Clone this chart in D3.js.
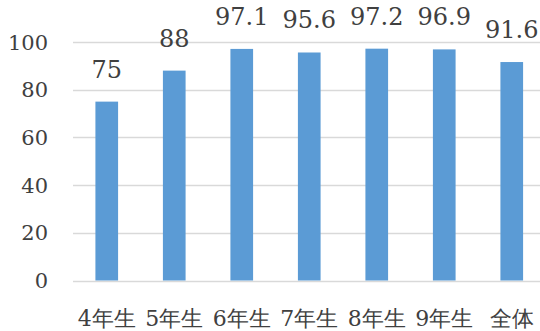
<!DOCTYPE html>
<meta charset="utf-8">
<script src="https://d3js.org/d3.v7.min.js"></script>
<body style="margin:0">
<script>

var categories = ["4年生", "5年生", "6年生", "7年生", "8年生", "9年生", "全体"];
var values = [75, 88, 97.1, 95.6, 97.2, 96.9, 91.6];
var yTicks = [0, 20, 40, 60, 80, 100];

var width = 540, height = 331;
var textColor = "#404040";
var font = "'DejaVu Serif'";

var svg = d3.select("body")
  .append("svg")
    .attr("width", width)
    .attr("height", height);

var x = d3.scaleBand()
  .domain(categories)
  .range([73, 545.5])
  .paddingInner(0.664)
  .paddingOuter(0.332);

var y = d3.scaleLinear()
  .domain([0, 100])
  .range([280.5, 42]);

// gridlines
svg.append("g")
  .selectAll("line")
  .data(yTicks)
  .enter()
  .append("line")
    .attr("x1", 73)
    .attr("x2", width)
    .attr("y1", function(d) { return Math.round(y(d)) + 0.5; })
    .attr("y2", function(d) { return Math.round(y(d)) + 0.5; })
    .style("stroke", "#d9d9d9")
    .style("stroke-width", 1.5);

// y tick labels
svg.append("g")
  .selectAll("text")
  .data(yTicks)
  .enter()
  .append("text")
    .attr("x", 48)
    .attr("y", function(d) { return y(d); })
    .attr("dy", "0.36em")
    .attr("text-anchor", "end")
    .style("font-family", font)
    .style("font-size", "21px")
    .style("fill", textColor)
    .text(function(d) { return String(d); });

// bars
svg.append("g")
  .selectAll("rect")
  .data(values)
  .enter()
  .append("rect")
    .attr("x", function(d, i) { return x(categories[i]); })
    .attr("y", function(d) { return y(d); })
    .attr("width", x.bandwidth())
    .attr("height", function(d) { return y(0) - y(d); })
    .style("fill", "#5b9bd5");

// value labels
svg.append("g")
  .selectAll("text")
  .data(values)
  .enter()
  .append("text")
    .attr("x", function(d, i) { return x(categories[i]) + x.bandwidth() / 2; })
    .attr("y", function(d) { return y(d) - 24; })
    .attr("text-anchor", "middle")
    .style("font-family", font)
    .style("font-size", "24px")
    .style("fill", textColor)
    .text(function(d) { return String(d); });

// category labels
svg.append("g")
  .selectAll("text")
  .data(categories)
  .enter()
  .append("text")
    .attr("x", function(d) { return x(d) + x.bandwidth() / 2; })
    .attr("y", 326)
    .attr("text-anchor", "middle")
    .style("font-family", font)
    .style("font-size", "22px")
    .style("fill", textColor)
    .text(function(d) { return d; });

</script>
